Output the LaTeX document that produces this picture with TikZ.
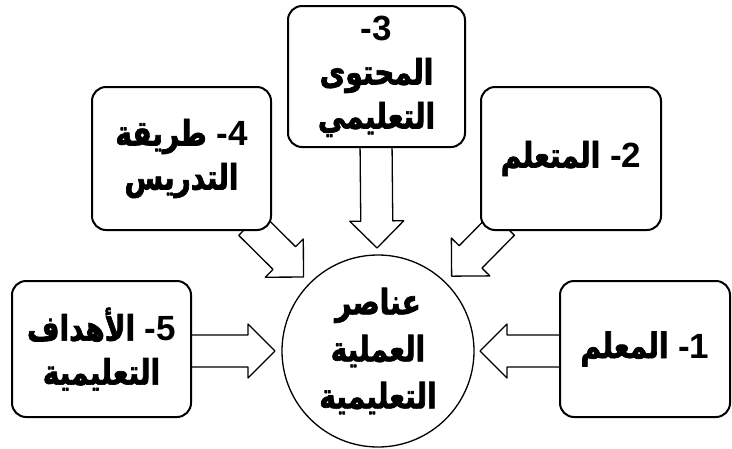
\documentclass[tikz,border=0pt]{standalone}
\usepackage{fontspec}
\setmainfont{Liberation Sans}
\newfontfamily\arabicfont[Script=Arabic, FakeStretch=0.8, BoldFeatures={FakeBold=2}]{DejaVu Sans}
\TeXXeTstate=1
\usetikzlibrary{calc}

\newcommand{\ar}[1]{{\arabicfont\beginR #1\endR}}
% block arrow from tail #1 to tip #2
\newcommand{\blockarrow}[2]{%
	\path ($(#2)!27pt!(#1)$) coordinate (hb);
	\draw[fatarrow] ($(#1)!16pt!90:(#2)$) -- ($(hb)!16pt!90:(#2)$) -- ($(hb)!27pt!90:(#2)$) -- (#2)
		-- ($(hb)!27pt!-90:(#2)$) -- ($(hb)!16pt!-90:(#2)$) -- ($(#1)!16pt!-90:(#2)$) -- cycle;}

\begin{document}
\begin{tikzpicture}[x=1pt, y=-1pt, line join=round,
	elem/.style={draw, fill=white, rounded corners=14pt, line width=2pt, align=center,
		font=\fontsize{35}{44}\selectfont\bfseries},
	core/.style={draw, fill=white, circle, line width=1.3pt, minimum size=192pt, inner sep=0pt,
		align=center, font=\fontsize{35}{47}\selectfont\bfseries},
	fatarrow/.style={draw, fill=white, line width=1.3pt}]
				\useasboundingbox (0,0) rectangle (732,448);
				\coordinate (c) at (378,351);
				\coordinate (t1) at (565,351);
				\coordinate (t2) at (503,224);
				\coordinate (t3) at (376,140);
				\coordinate (t4) at (250,224);
				\coordinate (t5) at (185,351);
				\coordinate (p1) at ($(c)!102pt!(t1)$);
				\coordinate (p2) at ($(c)!105pt!(t2)$);
				\coordinate (p3) at ($(c)!103pt!(t3)$);
				\coordinate (p4) at ($(c)!105pt!(t4)$);
				\coordinate (p5) at ($(c)!103pt!(t5)$);
				
				\blockarrow{t1}{p1}
				\blockarrow{t2}{p2}
				\blockarrow{t3}{p3}
				\blockarrow{t4}{p4}
				\blockarrow{t5}{p5}
				
				\node[elem, minimum width=170pt, minimum height=136pt] (b1) at (645,349) {\ar{المعلم} -1};
				\node[elem, minimum width=180pt, minimum height=143pt] (b2) at (571,158.5) {\ar{المتعلم} -2};
				\node[elem, minimum width=177pt, minimum height=141pt, inner sep=2pt] (b3) at (376.5,76.5) {-3\\\ar{المحتوى}\\\ar{التعليمي}};
				\node[elem, minimum width=179pt, minimum height=143pt] (b4) at (181.5,158.5) {\ar{طريقة} -4\\\ar{التدريس}};
				\node[elem, minimum width=179pt, minimum height=136pt] (b5) at (101.5,349) {\ar{الأهداف} -5\\\ar{التعليمية}};
				\node[core] (core) at (c) {\ar{عناصر}\\\ar{العملية}\\\ar{التعليمية}};
			\end{tikzpicture}
\end{document}
